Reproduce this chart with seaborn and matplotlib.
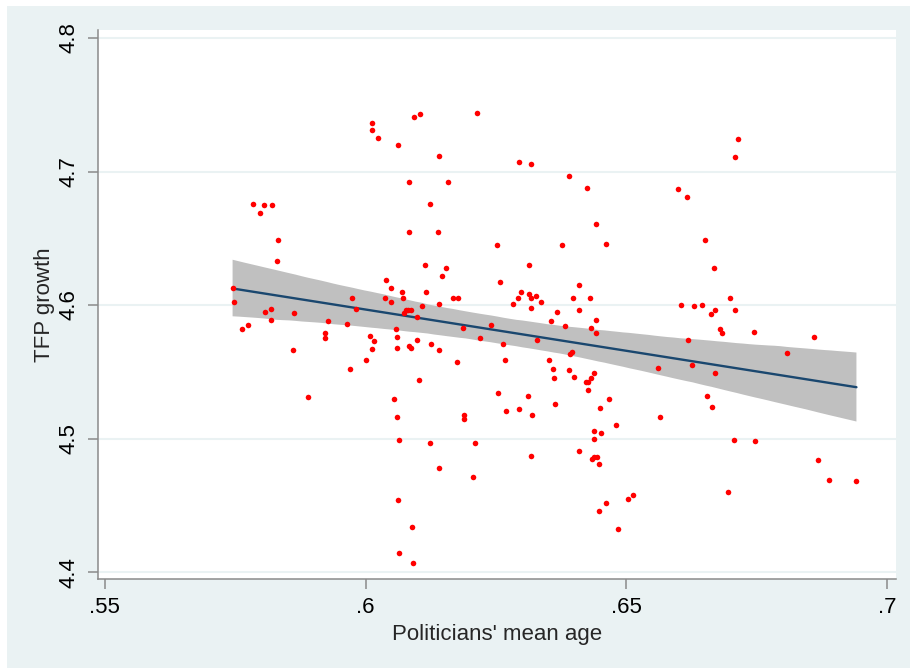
import numpy as np
import pandas as pd
import matplotlib
matplotlib.use("Agg")
import matplotlib.pyplot as plt
from matplotlib.patches import Rectangle
import seaborn as sns

# values
mean_age = [
    0.6013, 0.6012, 0.6024, 0.6092, 0.6104, 0.6063, 0.6141, 0.6084, 0.6158, 0.5784,
    0.5806, 0.5820, 0.5798, 0.6123, 0.5832, 0.6084, 0.6138, 0.5830, 0.6114, 0.6155,
    0.6146, 0.6040, 0.6048, 0.6070, 0.6116, 0.5745, 0.5974, 0.6038, 0.6072, 0.5747,
    0.5808, 0.5818, 0.5818, 0.5863, 0.5764, 0.5775, 0.5928, 0.5964, 0.5982, 0.5923,
    0.5923, 0.5860, 0.6009, 0.6016, 0.6012, 0.6001, 0.5970, 0.6058, 0.6060, 0.6060,
    0.6084, 0.6087, 0.6099, 0.6126, 0.6141, 0.6102, 0.5889, 0.6055, 0.6060, 0.6064,
    0.6123, 0.6141, 0.6063, 0.6089, 0.6064, 0.6091, 0.6048, 0.6073, 0.6077, 0.6081,
    0.6087, 0.6099, 0.6109, 0.6141,
    0.6214, 0.6295, 0.6317, 0.6390, 0.6424, 0.6441, 0.6460, 0.6251, 0.6376, 0.6314,
    0.6258, 0.6410, 0.6297, 0.6314, 0.6327, 0.6317, 0.6292, 0.6398, 0.6430, 0.6167,
    0.6178,
    0.6283, 0.6317, 0.6336, 0.6366, 0.6410, 0.6356, 0.6383, 0.6441, 0.6432, 0.6441,
    0.6187, 0.6241, 0.6219, 0.6263, 0.6329, 0.6175, 0.6268, 0.6351, 0.6359, 0.6361,
    0.6390, 0.6400, 0.6392, 0.6395, 0.6438, 0.6432, 0.6422, 0.6427, 0.6427, 0.6253,
    0.6312, 0.6466, 0.6449, 0.6270, 0.6295, 0.6319, 0.6363, 0.6480, 0.6189, 0.6189,
    0.6209, 0.6206, 0.6438, 0.6451, 0.6438, 0.6410, 0.6317, 0.6434, 0.6438, 0.6444,
    0.6447, 0.6513, 0.6503, 0.6461, 0.6447, 0.6483,
    0.6713, 0.6708, 0.6598, 0.6616, 0.6650, 0.6667, 0.6605, 0.6630, 0.6645, 0.6698,
    0.6669, 0.6662, 0.6708, 0.6679, 0.6684, 0.6745, 0.6618, 0.6859, 0.6808, 0.6561,
    0.6625, 0.6669, 0.6655, 0.6664, 0.6564, 0.6706, 0.6747, 0.6867, 0.6889, 0.6941,
    0.6694,
]
tfp_growth = [
    4.736, 4.731, 4.725, 4.741, 4.743, 4.720, 4.712, 4.692, 4.692, 4.676,
    4.675, 4.675, 4.669, 4.676, 4.649, 4.655, 4.655, 4.633, 4.630, 4.628,
    4.622, 4.619, 4.613, 4.610, 4.610, 4.613, 4.605, 4.605, 4.605, 4.602,
    4.595, 4.597, 4.589, 4.594, 4.582, 4.585, 4.588, 4.586, 4.597, 4.579,
    4.575, 4.566, 4.577, 4.573, 4.567, 4.559, 4.552, 4.582, 4.576, 4.568,
    4.569, 4.568, 4.574, 4.571, 4.566, 4.544, 4.531, 4.530, 4.516, 4.499,
    4.497, 4.478, 4.454, 4.434, 4.414, 4.407, 4.602, 4.594, 4.596, 4.596,
    4.596, 4.591, 4.599, 4.601,
    4.744, 4.707, 4.706, 4.697, 4.688, 4.661, 4.646, 4.645, 4.645, 4.630,
    4.617, 4.615, 4.610, 4.608, 4.607, 4.605, 4.605, 4.605, 4.605, 4.605,
    4.605,
    4.601, 4.598, 4.602, 4.595, 4.596, 4.588, 4.584, 4.589, 4.583, 4.579,
    4.583, 4.585, 4.575, 4.571, 4.574, 4.557, 4.559, 4.559, 4.552, 4.545,
    4.551, 4.546, 4.563, 4.565, 4.549, 4.545, 4.542, 4.542, 4.536, 4.534,
    4.532, 4.530, 4.523, 4.521, 4.522, 4.518, 4.526, 4.510, 4.518, 4.515,
    4.497, 4.471, 4.506, 4.504, 4.500, 4.491, 4.487, 4.485, 4.486, 4.486,
    4.481, 4.458, 4.455, 4.452, 4.446, 4.432,
    4.724, 4.711, 4.687, 4.681, 4.649, 4.628, 4.600, 4.599, 4.600, 4.605,
    4.596, 4.593, 4.596, 4.582, 4.579, 4.580, 4.574, 4.576, 4.564, 4.553,
    4.555, 4.549, 4.532, 4.524, 4.516, 4.499, 4.498, 4.484, 4.469, 4.468,
    4.460,
]

xticks = [0.55, 0.6, 0.65, 0.7]
xtick_labels = [".55", ".6", ".65", ".7"]
yticks = [4.4, 4.5, 4.6, 4.7, 4.8]
ytick_labels = ["4.4", "4.5", "4.6", "4.7", "4.8"]

df = pd.DataFrame({"mean_age": mean_age, "tfp_growth": tfp_growth})

sns.set_style("white")
plt.rcParams["font.family"] = ["Liberation Sans", "DejaVu Sans"]

bg = "#EAF2F3"
axis_gray = "#8A8A8A"

fig = plt.figure(figsize=(9.1, 6.68), dpi=100, facecolor=bg)
# white strips along the top and left edges of the cropped original
fig.patches.append(Rectangle((0, 1 - 6 / 668), 1, 6 / 668, transform=fig.transFigure,
                             facecolor="white", edgecolor="none", zorder=0))
fig.patches.append(Rectangle((0, 0), 7 / 910, 1, transform=fig.transFigure,
                             facecolor="white", edgecolor="none", zorder=0))

ax = fig.add_axes([0.1077, 0.1332, 0.877, 0.8219])
ax.set_facecolor("white")

# linear fit with 95% band, then the scatter on top
sns.regplot(data=df, x="mean_age", y="tfp_growth", scatter=False, ci=95,
            n_boot=2000, seed=3, color="#1A476F", line_kws={"lw": 1.7}, ax=ax)
for coll in ax.collections:
    coll.set_facecolor("#C0C0C0")
    coll.set_edgecolor("none")
    coll.set_alpha(1)

sns.scatterplot(data=df, x="mean_age", y="tfp_growth", color="#FF0000", s=16,
                linewidth=0, ax=ax, zorder=3)

ax.set_xlim(0.5487, 0.7017)
ax.set_ylim(4.3948, 4.806)
ax.set_xticks(xticks)
ax.set_xticklabels(xtick_labels)
ax.set_yticks(yticks)
ax.set_yticklabels(ytick_labels, rotation=90, va="center")

ax.yaxis.grid(True, color=bg, lw=1.5)
ax.xaxis.grid(False)
ax.set_axisbelow(True)

for side in ["top", "right"]:
    ax.spines[side].set_visible(False)
for side in ["left", "bottom"]:
    ax.spines[side].set_color(axis_gray)
    ax.spines[side].set_linewidth(1.1)

ax.tick_params(axis="both", direction="out", length=7, width=1.1, color=axis_gray,
               labelsize=16, labelcolor="black", pad=6)
ax.tick_params(axis="x", bottom=True)
ax.tick_params(axis="y", left=True)

ax.set_xlabel("Politicians' mean age", fontsize=16, labelpad=4)
ax.set_ylabel("TFP growth", fontsize=16, labelpad=3)

fig.savefig("out.png", dpi=100, facecolor=fig.get_facecolor())
